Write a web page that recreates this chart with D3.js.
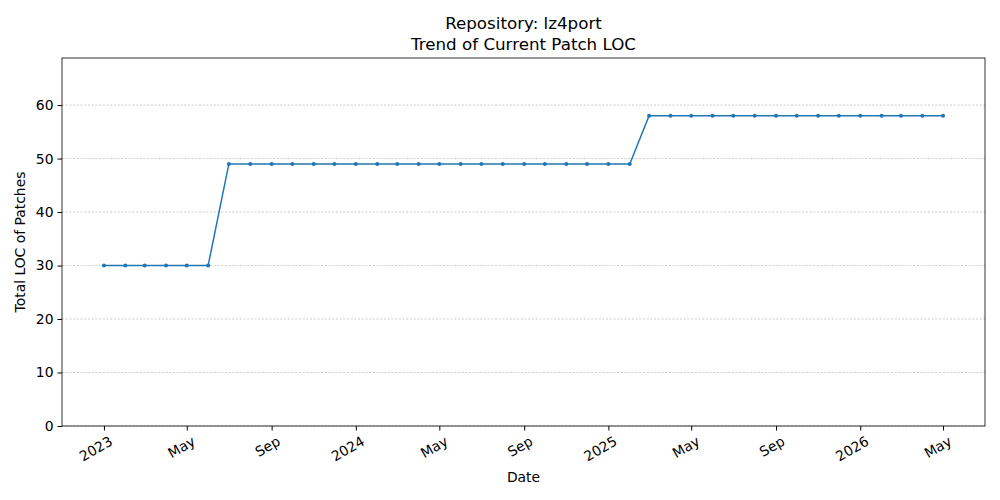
<!DOCTYPE html>
<html><head><meta charset="utf-8">
<script src="https://cdn.jsdelivr.net/npm/d3@7"></script>
<style>body{margin:0;background:#fff;font-family:"DejaVu Sans",sans-serif;}</style>
</head><body><svg id="c" width="1000" height="500"></svg>
<script>
const startMonth = "2023-01";
const values = [30,30,30,30,30,30,
 49,49,49,49,49,49,49,49,49,49,49,49,49,49,49,49,49,49,49,49,
 58,58,58,58,58,58,58,58,58,58,58,58,58,58,58];
const yTicks = [0,10,20,30,40,50,60];
const xTickDates = ["2023-01","2023-05","2023-09","2024-01","2024-05","2024-09","2025-01","2025-05","2025-09","2026-01","2026-05"];

const parse = d3.timeParse("%Y-%m");
const s = parse(startMonth);
const data = values.map((v,i)=>({d:d3.timeMonth.offset(s,i),v}));
const L=62,R=985,T=58,B=426;
const svg=d3.select("#c");
const d0=data[0].d, d1=data[data.length-1].d, pad=(d1-d0)*0.05;
const x=d3.scaleTime().domain([new Date(+d0-pad),new Date(+d1+pad)]).range([L,R]);
const y=d3.scaleLinear().domain([0,68.8]).range([B,T]);

svg.append("g").selectAll("line").data(yTicks).join("line")
 .attr("x1",L).attr("x2",R).attr("y1",d=>y(d)).attr("y2",d=>y(d))
 .attr("stroke","#b0b0b0").attr("stroke-width",0.6).attr("stroke-dasharray","2.2,1.5");

const ya=svg.append("g").attr("transform",`translate(${L},0)`).call(d3.axisLeft(y).tickValues(yTicks).tickSize(4.5).tickPadding(4));
ya.selectAll("text").attr("font-size",13.9).attr("fill","#000").attr("font-family","DejaVu Sans");
ya.select(".domain").remove();

const fmt=d=>d.getMonth()===0?d3.timeFormat("%Y")(d):d3.timeFormat("%b")(d);
const xa=svg.append("g").attr("transform",`translate(0,${B})`).call(d3.axisBottom(x).tickValues(xTickDates.map(parse)).tickFormat(fmt).tickSize(4.5));
xa.select(".domain").remove();
xa.selectAll("text").attr("font-size",13.9).attr("fill","#000").attr("font-family","DejaVu Sans")
 .attr("text-anchor","end").attr("x",0).attr("y",0).attr("dy","0.75em").attr("transform","translate(4,9) rotate(-30)");

svg.append("rect").attr("x",L).attr("y",T).attr("width",R-L).attr("height",B-T).attr("fill","none").attr("stroke","#000").attr("stroke-width",0.8);

svg.append("path").datum(data).attr("fill","none").attr("stroke","#1f77b4").attr("stroke-width",1.5)
 .attr("d",d3.line().x(d=>x(d.d)).y(d=>y(d.v)));
svg.append("g").selectAll("circle").data(data).join("circle")
 .attr("cx",d=>x(d.d)).attr("cy",d=>y(d.v)).attr("r",2).attr("fill","#1f77b4");

svg.append("text").attr("x",(L+R)/2).attr("y",29).attr("text-anchor","middle").attr("font-size",16.7).text("Repository: lz4port");
svg.append("text").attr("x",(L+R)/2).attr("y",50).attr("text-anchor","middle").attr("font-size",16.7).text("Trend of Current Patch LOC");
svg.append("text").attr("x",(L+R)/2).attr("y",482).attr("text-anchor","middle").attr("font-size",13.9).text("Date");
svg.append("text").attr("transform",`translate(25,${(T+B)/2}) rotate(-90)`).attr("text-anchor","middle").attr("font-size",13.9).text("Total LOC of Patches");
</script></body></html>
